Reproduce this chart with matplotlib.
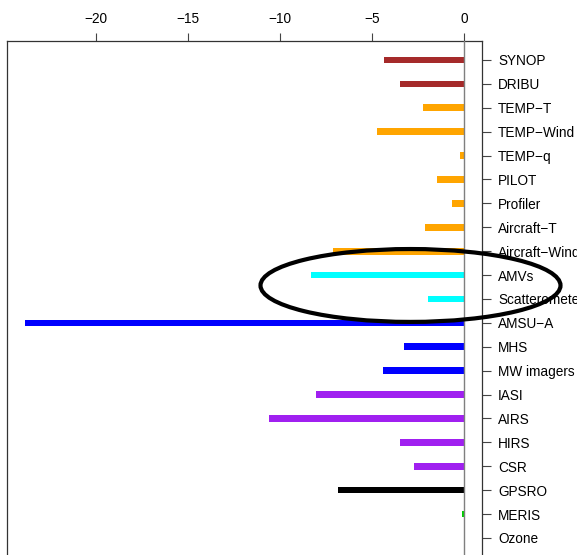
import matplotlib
matplotlib.use("Agg")
import matplotlib.pyplot as plt
from matplotlib.patches import Ellipse

categories = ["SYNOP", "DRIBU", "TEMP−T", "TEMP−Wind", "TEMP−q", "PILOT", "Profiler",
              "Aircraft−T", "Aircraft−Wind", "AMVs", "Scatterometer", "AMSU−A", "MHS",
              "MW imagers", "IASI", "AIRS", "HIRS", "CSR", "GPSRO", "MERIS", "Ozone"]
values = [-4.36, -3.49, -2.22, -4.75, -0.23, -1.46, -0.67, -2.13, -7.11, -8.33, -1.99,
          -23.84, -3.27, -4.43, -8.05, -10.60, -3.49, -2.71, -6.85, -0.10, -0.04]
colors = ["#A52A2A", "#A52A2A", "#FFA500", "#FFA500", "#FFA500", "#FFA500", "#FFA500",
          "#FFA500", "#FFA500", "#00FFFF", "#00FFFF", "#0000FF", "#0000FF", "#0000FF",
          "#A020F0", "#A020F0", "#A020F0", "#A020F0", "#000000", "#00CD00", "#00CD00"]
xticks = [-20, -15, -10, -5, 0]

plt.rcParams['font.family'] = ['Liberation Sans', 'DejaVu Sans']

W, H = 577, 555
fig = plt.figure(figsize=(W / 100, H / 100), dpi=100)
left_px, right_px, top_px, bot_px = 7.3, 482, 41, 580
ax = fig.add_axes([left_px / W, (H - bot_px) / H, (right_px - left_px) / W, (bot_px - top_px) / H])

ypos = list(range(len(categories)))
ax.barh(ypos, values, height=0.28, color=colors, zorder=2)
ax.axvline(0, color="#7f7f7f", lw=1.0, zorder=3)

ax.set_xlim(-24.8, 0.96)
ax.set_ylim(21.76, -0.795)

ax.xaxis.tick_top()
ax.set_xticks(xticks)
ax.set_xticklabels([("−" if v < 0 else "") + str(abs(v)) for v in xticks], fontsize=9.8)
ax.tick_params(axis="x", direction="out", length=5.8, width=0.8, pad=5, color="#444444")

ax.yaxis.tick_right()
ax.set_yticks(ypos)
ax.set_yticklabels(categories, fontsize=9.8)
ax.tick_params(axis="y", direction="out", length=6.5, width=0.8, pad=5, color="#444444")

for s in ["top", "left", "right"]:
    ax.spines[s].set_color("#333333")
    ax.spines[s].set_linewidth(0.9)
ax.spines["bottom"].set_visible(False)

ell = Ellipse((-2.92, 9.435), width=16.28, height=3.05, fill=False,
              edgecolor="black", lw=3.0, clip_on=False, zorder=5)
ax.add_patch(ell)

fig.savefig("out.png", dpi=100)
